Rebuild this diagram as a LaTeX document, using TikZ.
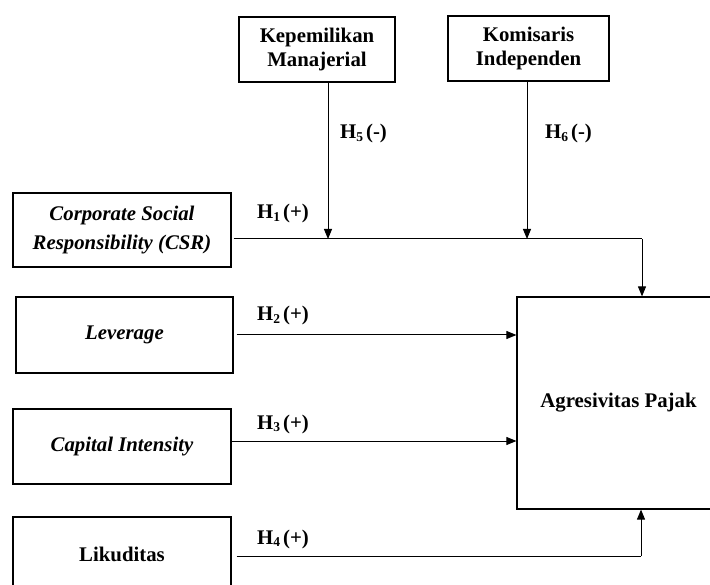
\documentclass[tikz,border=0pt]{standalone}
\usepackage{fontspec}
\setmainfont{Liberation Serif}
\usetikzlibrary{arrows.meta}
\newcommand\hyp[2]{H\raisebox{-2.5pt}{\fontsize{13.5}{13.5}\selectfont #1}\hspace{3pt}(#2)}
\begin{document}
\begin{tikzpicture}[x=1pt,y=-1pt,
  box/.style={draw, line width=1.2pt, inner sep=0pt, align=center,
    font=\fontsize{20.8}{24}\selectfont\bfseries},
  itbox/.style={box, font=\fontsize{20.8}{29}\selectfont\bfseries\itshape},
  plain/.style={line width=1pt},
  link/.style={line width=1pt, -{Triangle[length=10pt,width=8pt]}},
  lbl/.style={anchor=base west, inner sep=0pt, font=\fontsize{20.8}{24}\selectfont\bfseries}]
\useasboundingbox (0,0) rectangle (710,585);
\clip (0,0) rectangle (710,585);
% boxes
\node[box, minimum width=156pt, minimum height=65pt] (km) at (317,49.5) {Kepemilikan\\Manajerial};
\node[box, minimum width=161pt, minimum height=65pt] (ki) at (528.5,48.5) {Komisaris\\Independen};
\node[itbox, minimum width=218pt, minimum height=74pt] (csr) at (122,230) {Corporate Social\\Responsibility (CSR)};
\node[itbox, minimum width=217pt, minimum height=76pt] (lev) at (124.5,335) {Leverage};
\node[itbox, minimum width=218pt, minimum height=75pt] (ci) at (122,446.5) {Capital Intensity};
\node[box, minimum width=218pt, minimum height=75pt] (liq) at (122,554.5) {Likuditas};
\node[box, minimum width=203pt, minimum height=212pt] (agr) at (618.5,403) {Agresivitas Pajak};
% junctions
\coordinate (j1) at (328,239);
\coordinate (j2) at (527,239);
\coordinate (t1) at (642,239);
\coordinate (c3) at (231,441);
\coordinate (t4) at (641,556);
% connectors
\draw[plain] ([xshift=2pt]csr.east |- j1) -- (t1);
\draw[link] (t1) -- (t1 |- agr.north);
\draw[link] (km.south -| j1) -- (j1);
\draw[link] (ki.south -| j2) -- (j2);
\draw[link] ([xshift=3pt]lev.east) -- (agr.west |- lev.east);
\draw[link] (ci.east |- c3) -- (agr.west |- c3);
\draw[plain] ([xshift=5pt]liq.east |- t4) -- (t4);
\draw[link] (t4) -- (t4 |- agr.south);
% labels
\node[lbl] (h1) at (257,219) {\hyp{1}{+}};
\node[lbl] (h2) at (257,321) {\hyp{2}{+}};
\node[lbl] (h3) at (257,429) {\hyp{3}{+}};
\node[lbl] (h4) at (257,544) {\hyp{4}{+}};
\node[lbl] (h5) at (340,139) {\hyp{5}{-}};
\node[lbl] (h6) at (545,139) {\hyp{6}{-}};
\end{tikzpicture}
\end{document}
